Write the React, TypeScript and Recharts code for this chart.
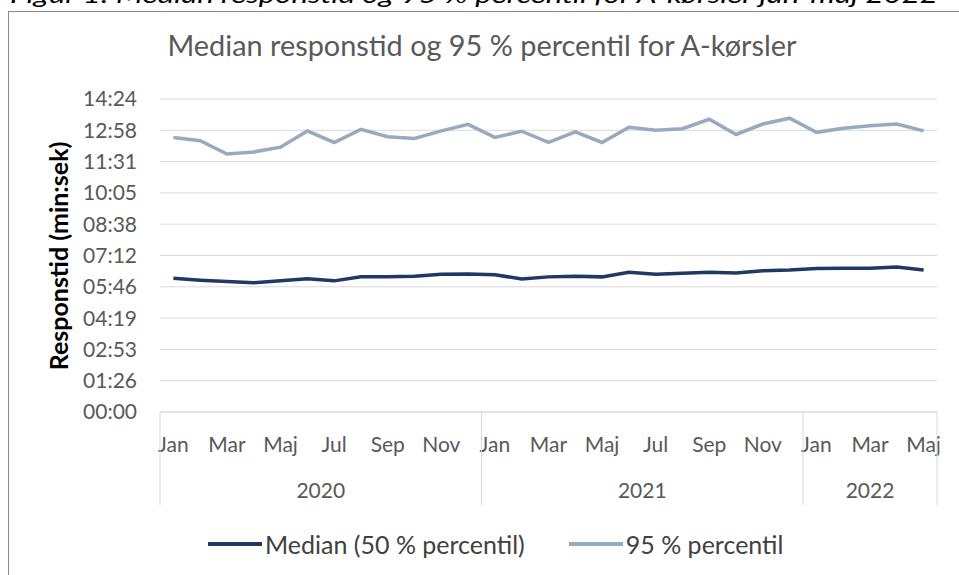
import React from "react";
import { LineChart, Line, XAxis, YAxis, CartesianGrid, Legend } from "recharts";

const months = ["Jan", "Feb", "Mar", "Apr", "Maj", "Jun", "Jul", "Aug", "Sep", "Okt", "Nov", "Dec"];
const years = ["2020", "2021", "2022"];
const monthsPerYear = [12, 12, 5];

// seconds
const median = [
  369, 364, 360, 357, 362, 368, 362, 373, 373, 375, 380, 381,
  379, 367, 373, 375, 373, 386, 380, 383, 386, 384, 390, 392,
  396, 397, 397, 400, 392,
];
const p95 = [
  758, 749, 712, 718, 731, 776, 744, 780, 760, 755, 776, 794,
  758, 775, 744, 773, 744, 786, 778, 782, 808, 766, 795, 811,
  772, 783, 790, 795, 776,
];

const yTicks = [0, 86.4, 172.8, 259.2, 345.6, 432, 518.4, 604.8, 691.2, 777.6, 864];

const data: { label: string; year: string; pos: number; median: number; p95: number }[] = [];
{
  let i = 0;
  years.forEach((y, yi) => {
    for (let m = 0; m < monthsPerYear[yi]; m++) {
      data.push({ label: months[m], year: y, pos: i + 0.5, median: median[i], p95: p95[i] });
      i++;
    }
  });
}

const yearBounds: number[] = [0];
monthsPerYear.forEach((n) => yearBounds.push(yearBounds[yearBounds.length - 1] + n));
const yearMids = years.map((_, i) => (yearBounds[i] + yearBounds[i + 1]) / 2);

const fmt = (v: number) => {
  const s = Math.round(v);
  const mm = Math.floor(s / 60);
  const ss = s % 60;
  return `${String(mm).padStart(2, "0")}:${String(ss).padStart(2, "0")}`;
};

const MEDIAN_COLOR = "#203864";
const P95_COLOR = "#98aac0";
const GRID = "#d9d9d9";
const TEXT = "#595959";

const YearTick = (props: any) => {
  const { x, y, payload } = props;
  const v = payload.value;
  if (yearBounds.includes(v)) {
    return <line x1={x} x2={x} y1={y - 50} y2={y + 43} stroke={GRID} strokeWidth={1} />;
  }
  const yi = yearMids.indexOf(v);
  return (
    <text x={x} y={y + 36} textAnchor="middle" fill={TEXT} fontSize={21}>
      {years[yi]}
    </text>
  );
};

const renderLegend = () => {
  const items = [
    { name: "Median (50 % percentil)", color: MEDIAN_COLOR },
    { name: "95 % percentil", color: P95_COLOR },
  ];
  return (
    <div style={{ display: "flex", alignItems: "center", marginLeft: 208, fontFamily: "Lato", fontSize: 25, color: "#404040", height: 36 }}>
      {items.map((it) => (
        <div key={it.name} style={{ display: "flex", alignItems: "center", marginRight: 44 }}>
          <span style={{ display: "inline-block", width: 54, height: 4, background: it.color, marginRight: 3 }} />
          <span>{it.name}</span>
        </div>
      ))}
    </div>
  );
};

export default function App() {
  return (
    <div style={{ position: "fixed", left: 0, top: 0, width: 959, height: 575, overflow: "hidden", background: "#fff", fontFamily: "Lato" }}>
      <div style={{ position: "absolute", left: 8, top: 11, width: 980, height: 600, borderLeft: "1px solid #8a8a8a", borderTop: "1px solid #8a8a8a" }} />
      <div style={{ position: "absolute", left: 0, top: 0 }}>
        <LineChart width={959} height={575} data={data} margin={{ top: 99, right: 22, left: 10, bottom: 63 }} style={{ fontFamily: "Lato" }}>
          <CartesianGrid horizontal vertical={false} stroke={GRID} />
          <XAxis
            xAxisId="month"
            dataKey="label"
            interval={1}
            height={50}
            padding={{ left: 13.4, right: 13.4 }}
            tickLine={false}
            tickSize={0}
            tickMargin={25}
            axisLine={{ stroke: GRID }}
            tick={{ fill: TEXT, fontSize: 21 }}
          />
          <XAxis
            xAxisId="year"
            dataKey="pos"
            type="number"
            domain={[0, yearBounds[yearBounds.length - 1]]}
            allowDataOverflow
            ticks={[...yearBounds, ...yearMids].sort((a, b) => a - b)}
            interval={0}
            height={50}
            axisLine={false}
            tickLine={false}
            tickSize={0}
            tickMargin={0}
            tick={<YearTick />}
          />
          <YAxis
            domain={[0, 864]}
            ticks={yTicks}
            interval={0}
            width={150}
            axisLine={false}
            tickLine={false}
            tickSize={0}
            tickMargin={23}
            tickFormatter={fmt}
            tick={{ fill: TEXT, fontSize: 21 }}
          />
          <Line xAxisId="month" type="linear" dataKey="median" name="Median (50 % percentil)" stroke={MEDIAN_COLOR} strokeWidth={3.5} dot={false} isAnimationActive={false} />
          <Line xAxisId="month" type="linear" dataKey="p95" name="95 % percentil" stroke={P95_COLOR} strokeWidth={3.5} dot={false} isAnimationActive={false} />
          <Legend
            layout="horizontal"
            verticalAlign="middle"
            align="center"
            content={renderLegend}
            wrapperStyle={{ top: 526, left: 0, width: 959, height: 36 }}
          />
        </LineChart>
      </div>
      <svg width={959} height={575} style={{ position: "absolute", left: 0, top: 0, pointerEvents: "none" }}>
        <text x={10} y={2.5} fontStyle="italic" fontSize={24} fill="#000" textLength={928} lengthAdjust="spacingAndGlyphs">
          Figur 1: Median responstid og 95 % percentil for A-kørsler jan-maj 2022
        </text>
        <text x={482} y={56} textAnchor="middle" fontSize={28.5} fill={TEXT} textLength={629} lengthAdjust="spacingAndGlyphs">
          Median responstid og 95 % percentil for A-kørsler
        </text>
        <text transform="translate(68,256) rotate(-90)" textAnchor="middle" fontSize={25} fontWeight="bold" fill="#000">
          Responstid (min:sek)
        </text>
      </svg>
    </div>
  );
}
